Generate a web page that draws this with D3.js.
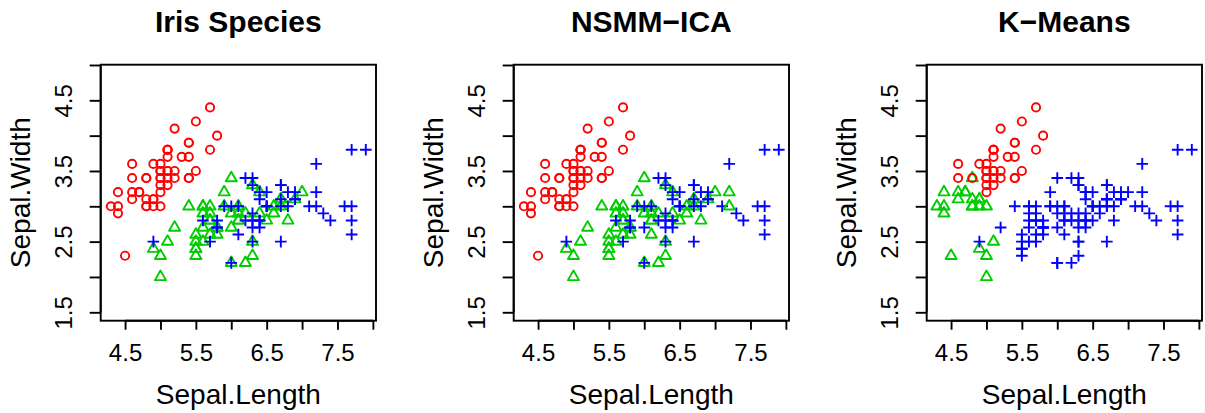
<!DOCTYPE html>
<html>
<head>
<meta charset="utf-8">
<script src="https://cdn.jsdelivr.net/npm/d3@7"></script>
<style>
  body { margin: 0; background: #fff; }
  svg { display: block; }
</style>
</head>
<body>
<div id="chart"></div>
<script>
// iris sepal measurements (rows 1..150)
const sepalLength = [
  5.1,4.9,4.7,4.6,5.0,5.4,4.6,5.0,4.4,4.9,5.4,4.8,4.8,4.3,5.8,5.7,5.4,5.1,5.7,5.1,
  5.4,5.1,4.6,5.1,4.8,5.0,5.0,5.2,5.2,4.7,4.8,5.4,5.2,5.5,4.9,5.0,5.5,4.9,4.4,5.1,
  5.0,4.5,4.4,5.0,5.1,4.8,5.1,4.6,5.3,5.0,
  7.0,6.4,6.9,5.5,6.5,5.7,6.3,4.9,6.6,5.2,5.0,5.9,6.0,6.1,5.6,6.7,5.6,5.8,6.2,5.6,
  5.9,6.1,6.3,6.1,6.4,6.6,6.8,6.7,6.0,5.7,5.5,5.5,5.8,6.0,5.4,6.0,6.7,6.3,5.6,5.5,
  5.5,6.1,5.8,5.0,5.6,5.7,5.7,6.2,5.1,5.7,
  6.3,5.8,7.1,6.3,6.5,7.6,4.9,7.3,6.7,7.2,6.5,6.4,6.8,5.7,5.8,6.4,6.5,7.7,7.7,6.0,
  6.9,5.6,7.7,6.3,6.7,7.2,6.2,6.1,6.4,7.2,7.4,7.9,6.4,6.3,6.1,7.7,6.3,6.4,6.0,6.9,
  6.7,6.9,5.8,6.8,6.7,6.7,6.3,6.5,6.2,5.9
];
const sepalWidth = [
  3.5,3.0,3.2,3.1,3.6,3.9,3.4,3.4,2.9,3.1,3.7,3.4,3.0,3.0,4.0,4.4,3.9,3.5,3.8,3.8,
  3.4,3.7,3.6,3.3,3.4,3.0,3.4,3.5,3.4,3.2,3.1,3.4,4.1,4.2,3.1,3.2,3.5,3.6,3.0,3.4,
  3.5,2.3,3.2,3.5,3.8,3.0,3.8,3.2,3.7,3.3,
  3.2,3.2,3.1,2.3,2.8,2.8,3.3,2.4,2.9,2.7,2.0,3.0,2.2,2.9,2.9,3.1,3.0,2.7,2.2,2.5,
  3.2,2.8,2.5,2.8,2.9,3.0,2.8,3.0,2.9,2.6,2.4,2.4,2.7,2.7,3.0,3.4,3.1,2.3,3.0,2.5,
  2.6,3.0,2.6,2.3,2.7,3.0,2.9,2.9,2.5,2.8,
  3.3,2.7,3.0,2.9,3.0,3.0,2.5,2.9,2.5,3.6,3.2,2.7,3.0,2.5,2.8,3.2,3.0,3.8,2.6,2.2,
  3.2,2.8,2.8,2.7,3.3,3.2,2.8,3.0,2.8,3.0,2.8,3.8,2.8,2.8,2.6,3.0,3.4,3.1,3.0,3.1,
  3.1,3.1,2.7,3.2,3.3,3.0,2.5,3.0,3.4,3.0
];

// group labels: 1 = red circle, 2 = green triangle, 3 = blue plus
const speciesGroup = [
  1,1,1,1,1,1,1,1,1,1,1,1,1,1,1,1,1,1,1,1,1,1,1,1,1,1,1,1,1,1,1,1,1,1,1,1,1,1,1,1,1,1,1,1,1,1,1,1,1,1,
  2,2,2,2,2,2,2,2,2,2,2,2,2,2,2,2,2,2,2,2,2,2,2,2,2,2,2,2,2,2,2,2,2,2,2,2,2,2,2,2,2,2,2,2,2,2,2,2,2,2,
  3,3,3,3,3,3,3,3,3,3,3,3,3,3,3,3,3,3,3,3,3,3,3,3,3,3,3,3,3,3,3,3,3,3,3,3,3,3,3,3,3,3,3,3,3,3,3,3,3,3
];
const nsmmGroup = [
  1,1,1,1,1,1,1,1,1,1,1,1,1,1,1,1,1,1,1,1,1,1,1,1,1,1,1,1,1,1,1,1,1,1,1,1,1,1,1,1,1,1,1,1,1,1,1,1,1,1,
  2,2,2,2,2,2,2,2,2,2,2,2,2,2,2,2,2,2,2,2,2,2,2,2,2,2,2,2,2,2,2,2,2,3,2,2,2,2,2,2,2,2,2,2,2,2,2,2,2,2,
  3,3,3,3,3,3,3,3,3,3,3,3,3,3,3,3,3,3,3,3,3,3,3,3,3,2,3,3,3,2,3,3,3,3,2,3,3,3,3,3,3,3,3,3,3,3,3,3,3,3
];
const kmeansGroup = [
  1,2,2,2,1,1,1,1,2,2,1,2,2,2,1,1,1,1,1,1,1,1,1,1,1,2,1,1,1,2,2,1,1,1,2,1,1,1,2,1,1,2,2,1,1,2,1,2,1,1,
  3,3,3,3,3,3,3,2,3,3,2,3,3,3,3,3,3,3,3,3,3,3,3,3,3,3,3,3,3,3,3,3,3,3,3,3,3,3,3,3,3,3,3,2,3,3,3,3,2,3,
  3,3,3,3,3,3,3,3,3,3,3,3,3,3,3,3,3,3,3,3,3,3,3,3,3,3,3,3,3,3,3,3,3,3,3,3,3,3,3,3,3,3,3,3,3,3,3,3,3,3
];

const panelTitles = ["Iris Species", "NSMM\u2212ICA", "K\u2212Means"];
const panelGroups = [speciesGroup, nsmmGroup, kmeansGroup];

const xLim = [4.156, 8.044];
const yLim = [1.381, 5.004];
const xTicks = [4.5, 5.0, 5.5, 6.0, 6.5, 7.0, 7.5, 8.0];
const yTicks = [1.5, 2.0, 2.5, 3.0, 3.5, 4.0, 4.5, 5.0];
const xTickLabels = ["4.5", "", "5.5", "", "6.5", "", "7.5", ""];
const yTickLabels = ["1.5", "", "2.5", "", "3.5", "", "4.5", ""];

const groupColors = ["#FF0000", "#00CD00", "#0000FF"];

const W = 1205, H = 413;
const font = "'Liberation Sans', Arial, Helvetica, sans-serif";
const panelLeft = [100.7, 513.7, 926.7];
const plotTop = 64.7, plotW = 275.3, plotH = 256;

const svg = d3.select("#chart").append("svg")
  .attr("width", W).attr("height", H)
  .style("font-family", font);

const x = d3.scaleLinear().domain(xLim).range([0, plotW]);
const y = d3.scaleLinear().domain(yLim).range([plotH, 0]);

// pch-like symbol sizes
const R = 4.1;
const triR = 1.5551 * R, triXc = 1.3468 * R, triYc = 0.7776 * R;
const plusH = 1.414 * R;
const lw = 1.9;

panelGroups.forEach(function (groups, p) {
  const g = svg.append("g")
    .attr("transform", "translate(" + panelLeft[p] + "," + plotTop + ")");

  const pts = sepalLength.map((d, i) => ({ x: d, y: sepalWidth[i], k: groups[i] }));

  // points
  const marks = g.append("g");
  pts.forEach(function (d) {
    const cx = x(d.x), cy = y(d.y), col = groupColors[d.k - 1];
    if (d.k === 1) {
      marks.append("circle").attr("cx", cx).attr("cy", cy).attr("r", R)
        .attr("fill", "none").attr("stroke", col).attr("stroke-width", lw);
    } else if (d.k === 2) {
      marks.append("path")
        .attr("d", "M" + cx + "," + (cy - triR) + "L" + (cx + triXc) + "," + (cy + triYc) +
          "L" + (cx - triXc) + "," + (cy + triYc) + "Z")
        .attr("fill", "none").attr("stroke", col).attr("stroke-width", lw)
        .attr("stroke-linejoin", "round");
    } else {
      marks.append("path")
        .attr("d", "M" + (cx - plusH) + "," + cy + "H" + (cx + plusH) +
          "M" + cx + "," + (cy - plusH) + "V" + (cy + plusH))
        .attr("fill", "none").attr("stroke", col).attr("stroke-width", lw);
    }
  });

  // box
  g.append("rect").attr("x", 0).attr("y", 0).attr("width", plotW).attr("height", plotH)
    .attr("fill", "none").attr("stroke", "#000").attr("stroke-width", 1.9);

  // x axis
  const xAxis = g.append("g").attr("transform", "translate(0," + plotH + ")")
    .call(d3.axisBottom(x).tickValues(xTicks).tickSize(9).tickPadding(14)
      .tickFormat((d, i) => xTickLabels[i]));
  xAxis.select(".domain").remove();
  xAxis.append("line").attr("x1", x(xTicks[0])).attr("x2", x(xTicks[xTicks.length - 1]))
    .attr("stroke", "#000").attr("stroke-width", 1.9);
  xAxis.selectAll(".tick line").attr("stroke-width", 1.9);
  xAxis.selectAll(".tick text")
    .style("font-family", font).style("font-size", "24px").attr("fill", "#000")
    .attr("dy", "0.71em");

  // y axis
  const yAxis = g.append("g")
    .call(d3.axisLeft(y).tickValues(yTicks).tickSize(11)
      .tickFormat((d, i) => yTickLabels[i]));
  yAxis.select(".domain").remove();
  yAxis.append("line").attr("y1", y(yTicks[0])).attr("y2", y(yTicks[yTicks.length - 1]))
    .attr("stroke", "#000").attr("stroke-width", 1.9);
  yAxis.selectAll(".tick line").attr("stroke-width", 1.9);
  yAxis.selectAll(".tick text")
    .style("font-family", font).style("font-size", "24px").attr("fill", "#000")
    .attr("x", null).attr("dy", null)
    .attr("text-anchor", "middle")
    .attr("transform", "translate(-29,0) rotate(-90)");

  // axis titles
  g.append("text")
    .attr("x", plotW / 2).attr("y", 339)
    .attr("text-anchor", "middle")
    .style("font-size", "28px")
    .text("Sepal.Length");

  g.append("text")
    .attr("transform", "translate(-71," + (plotH / 2) + ") rotate(-90)")
    .attr("text-anchor", "middle")
    .style("font-size", "28px")
    .text("Sepal.Width");

  // title
  g.append("text")
    .attr("x", plotW / 2).attr("y", -33)
    .attr("text-anchor", "middle")
    .style("font-size", "30px").style("font-weight", "bold")
    .text(panelTitles[p]);
});
</script>
</body>
</html>
